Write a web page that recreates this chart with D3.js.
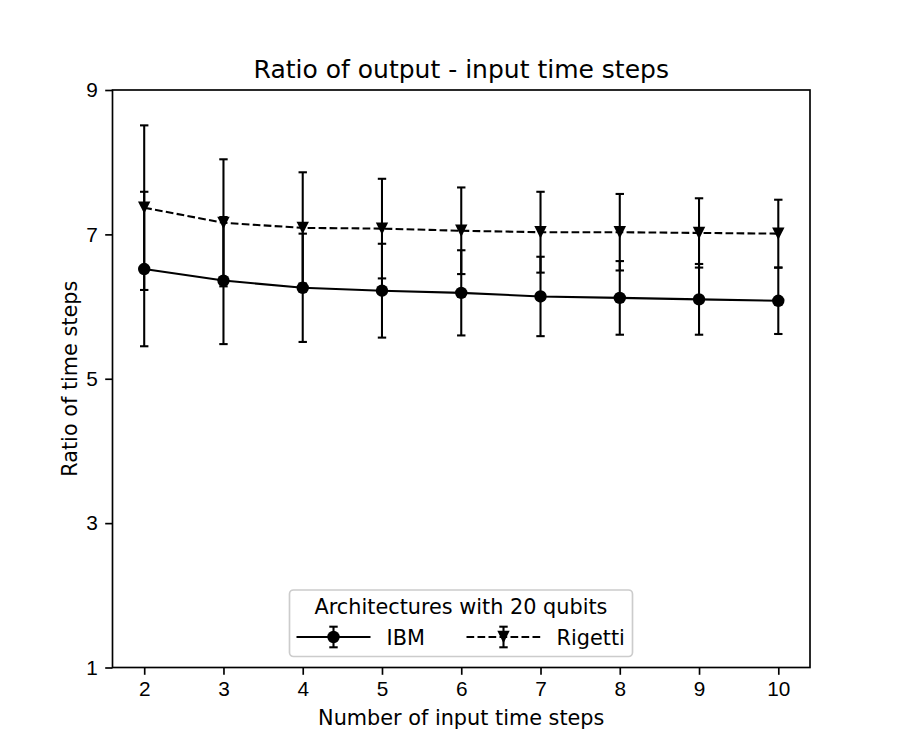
<!DOCTYPE html>
<html>
<head>
<meta charset="utf-8">
<script src="https://cdn.jsdelivr.net/npm/d3@7"></script>
<style>
  body { margin: 0; background: #fff; }
  svg { font-family: "DejaVu Sans", sans-serif; }
  .tick line { stroke: #000; stroke-width: 1.67; }
  .domain { display: none; }
</style>
</head>
<body>
<svg width="900" height="750"></svg>
<script>
const inputSteps = [2, 3, 4, 5, 6, 7, 8, 9, 10]
const ibmMean = [6.52, 6.36, 6.26, 6.22, 6.19, 6.14, 6.12, 6.10, 6.08]
const ibmErr = [1.07, 0.88, 0.75, 0.65, 0.59, 0.55, 0.51, 0.49, 0.46]
const rigettiMean = [7.37, 7.16, 7.09, 7.08, 7.05, 7.03, 7.03, 7.02, 7.01]
const rigettiErr = [1.14, 0.88, 0.77, 0.69, 0.60, 0.56, 0.53, 0.48, 0.47]
const xTicks = [2, 3, 4, 5, 6, 7, 8, 9, 10]
const yTicks = [1, 3, 5, 7, 9]

const width = 900, height = 750
    , plotLeft = 112.5, plotRight = 810
    , plotTop = 90, plotBottom = 667.5
    , fontSize = 20.8
    , lineW = 2.08
    , scaleX = d3.scaleLinear().domain([1.6, 10.4]).range([plotLeft, plotRight])
    , scaleY = d3.scaleLinear().domain([1, 9]).range([plotBottom, plotTop])
    , svg = d3.select('svg')

const series = [
    { name: 'IBM', mean: ibmMean, err: ibmErr, marker: 'circle', dash: null }
  , { name: 'Rigetti', mean: rigettiMean, err: rigettiErr, marker: 'triangle', dash: '7.7,3.3' }
]
const rows = s => inputSteps.map((x, i) => ({ x, y: s.mean[i], e: s.err[i] }))

// markers
const triPath = r => `M${-r},${-r}L${r},${-r}L0,${r}Z`
const drawMarker = (g, kind) => {
    if (kind === 'circle') g.append('circle').attr('r', 6.2).attr('fill', '#000')
    else g.append('path').attr('d', triPath(6.2)).attr('fill', '#000')
}

// axes
svg.append('g')
    .attr('transform', `translate(0,${plotBottom})`)
    .call(d3.axisBottom(scaleX).tickValues(xTicks).tickSize(7.3).tickPadding(6))
    .call(g => g.selectAll('.tick text').attr('font-size', fontSize).attr('fill', '#000'))
svg.append('g')
    .attr('transform', `translate(${plotLeft},0)`)
    .call(d3.axisLeft(scaleY).tickValues(yTicks).tickSize(7.3).tickPadding(7.3))
    .call(g => g.selectAll('.tick text').attr('font-size', fontSize).attr('fill', '#000'))

// data
series.forEach(s => {
    const g = svg.append('g')
    const d = rows(s)
    g.append('path')
        .datum(d)
        .attr('fill', 'none')
        .attr('stroke', '#000')
        .attr('stroke-width', lineW)
        .attr('stroke-dasharray', s.dash)
        .attr('d', d3.line().x(p => scaleX(p.x)).y(p => scaleY(p.y)))
    const eb = g.selectAll('g.eb').data(d).join('g').attr('class', 'eb')
    eb.append('line')
        .attr('x1', p => scaleX(p.x)).attr('x2', p => scaleX(p.x))
        .attr('y1', p => scaleY(p.y - p.e)).attr('y2', p => scaleY(p.y + p.e))
        .attr('stroke', '#000').attr('stroke-width', lineW)
    ;[-1, 1].forEach(sign => {
        eb.append('line')
            .attr('x1', p => scaleX(p.x) - 4.2).attr('x2', p => scaleX(p.x) + 4.2)
            .attr('y1', p => scaleY(p.y + sign * p.e)).attr('y2', p => scaleY(p.y + sign * p.e))
            .attr('stroke', '#000').attr('stroke-width', lineW)
    })
    eb.append('g')
        .attr('transform', p => `translate(${scaleX(p.x)},${scaleY(p.y)})`)
        .each(function () { drawMarker(d3.select(this), s.marker) })
})

// frame
svg.append('rect')
    .attr('x', plotLeft).attr('y', plotTop)
    .attr('width', plotRight - plotLeft).attr('height', plotBottom - plotTop)
    .attr('fill', 'none').attr('stroke', '#000').attr('stroke-width', 1.67)

// labels
svg.append('text')
    .attr('x', (plotLeft + plotRight) / 2).attr('y', plotTop - 12.5)
    .attr('text-anchor', 'middle').attr('font-size', 25)
    .text('Ratio of output - input time steps')
svg.append('text')
    .attr('x', (plotLeft + plotRight) / 2).attr('y', 725)
    .attr('text-anchor', 'middle').attr('font-size', fontSize)
    .text('Number of input time steps')
svg.append('text')
    .attr('transform', `translate(77,${(plotTop + plotBottom) / 2}) rotate(-90)`)
    .attr('text-anchor', 'middle').attr('font-size', fontSize)
    .text('Ratio of time steps')

// legend
const legend = svg.append('g')
legend.append('rect')
    .attr('x', 289.5).attr('y', 590).attr('width', 343).attr('height', 66.5)
    .attr('rx', 4).attr('fill', '#fff').attr('fill-opacity', 0.8)
    .attr('stroke', '#ccc').attr('stroke-width', 1.67)
legend.append('text')
    .attr('x', 461).attr('y', 614).attr('text-anchor', 'middle').attr('font-size', fontSize)
    .text('Architectures with 20 qubits')
const handleX = [296.5, 466.5]
series.forEach((s, i) => {
    const x0 = handleX[i], cx = x0 + 37, cy = 637
    const h = legend.append('g')
    h.append('line')
        .attr('x1', x0).attr('x2', x0 + 74).attr('y1', cy).attr('y2', cy)
        .attr('stroke', '#000').attr('stroke-width', lineW).attr('stroke-dasharray', s.dash)
    h.append('line')
        .attr('x1', cx).attr('x2', cx).attr('y1', cy - 10.3).attr('y2', cy + 10.3)
        .attr('stroke', '#000').attr('stroke-width', lineW)
    ;[-10.3, 10.3].forEach(dy => h.append('line')
        .attr('x1', cx - 4.2).attr('x2', cx + 4.2).attr('y1', cy + dy).attr('y2', cy + dy)
        .attr('stroke', '#000').attr('stroke-width', lineW))
    const m = h.append('g').attr('transform', `translate(${cx},${cy})`)
    drawMarker(m, s.marker)
    legend.append('text')
        .attr('x', x0 + 90).attr('y', cy + 7.5).attr('font-size', fontSize)
        .text(s.name)
})
</script>
</body>
</html>
